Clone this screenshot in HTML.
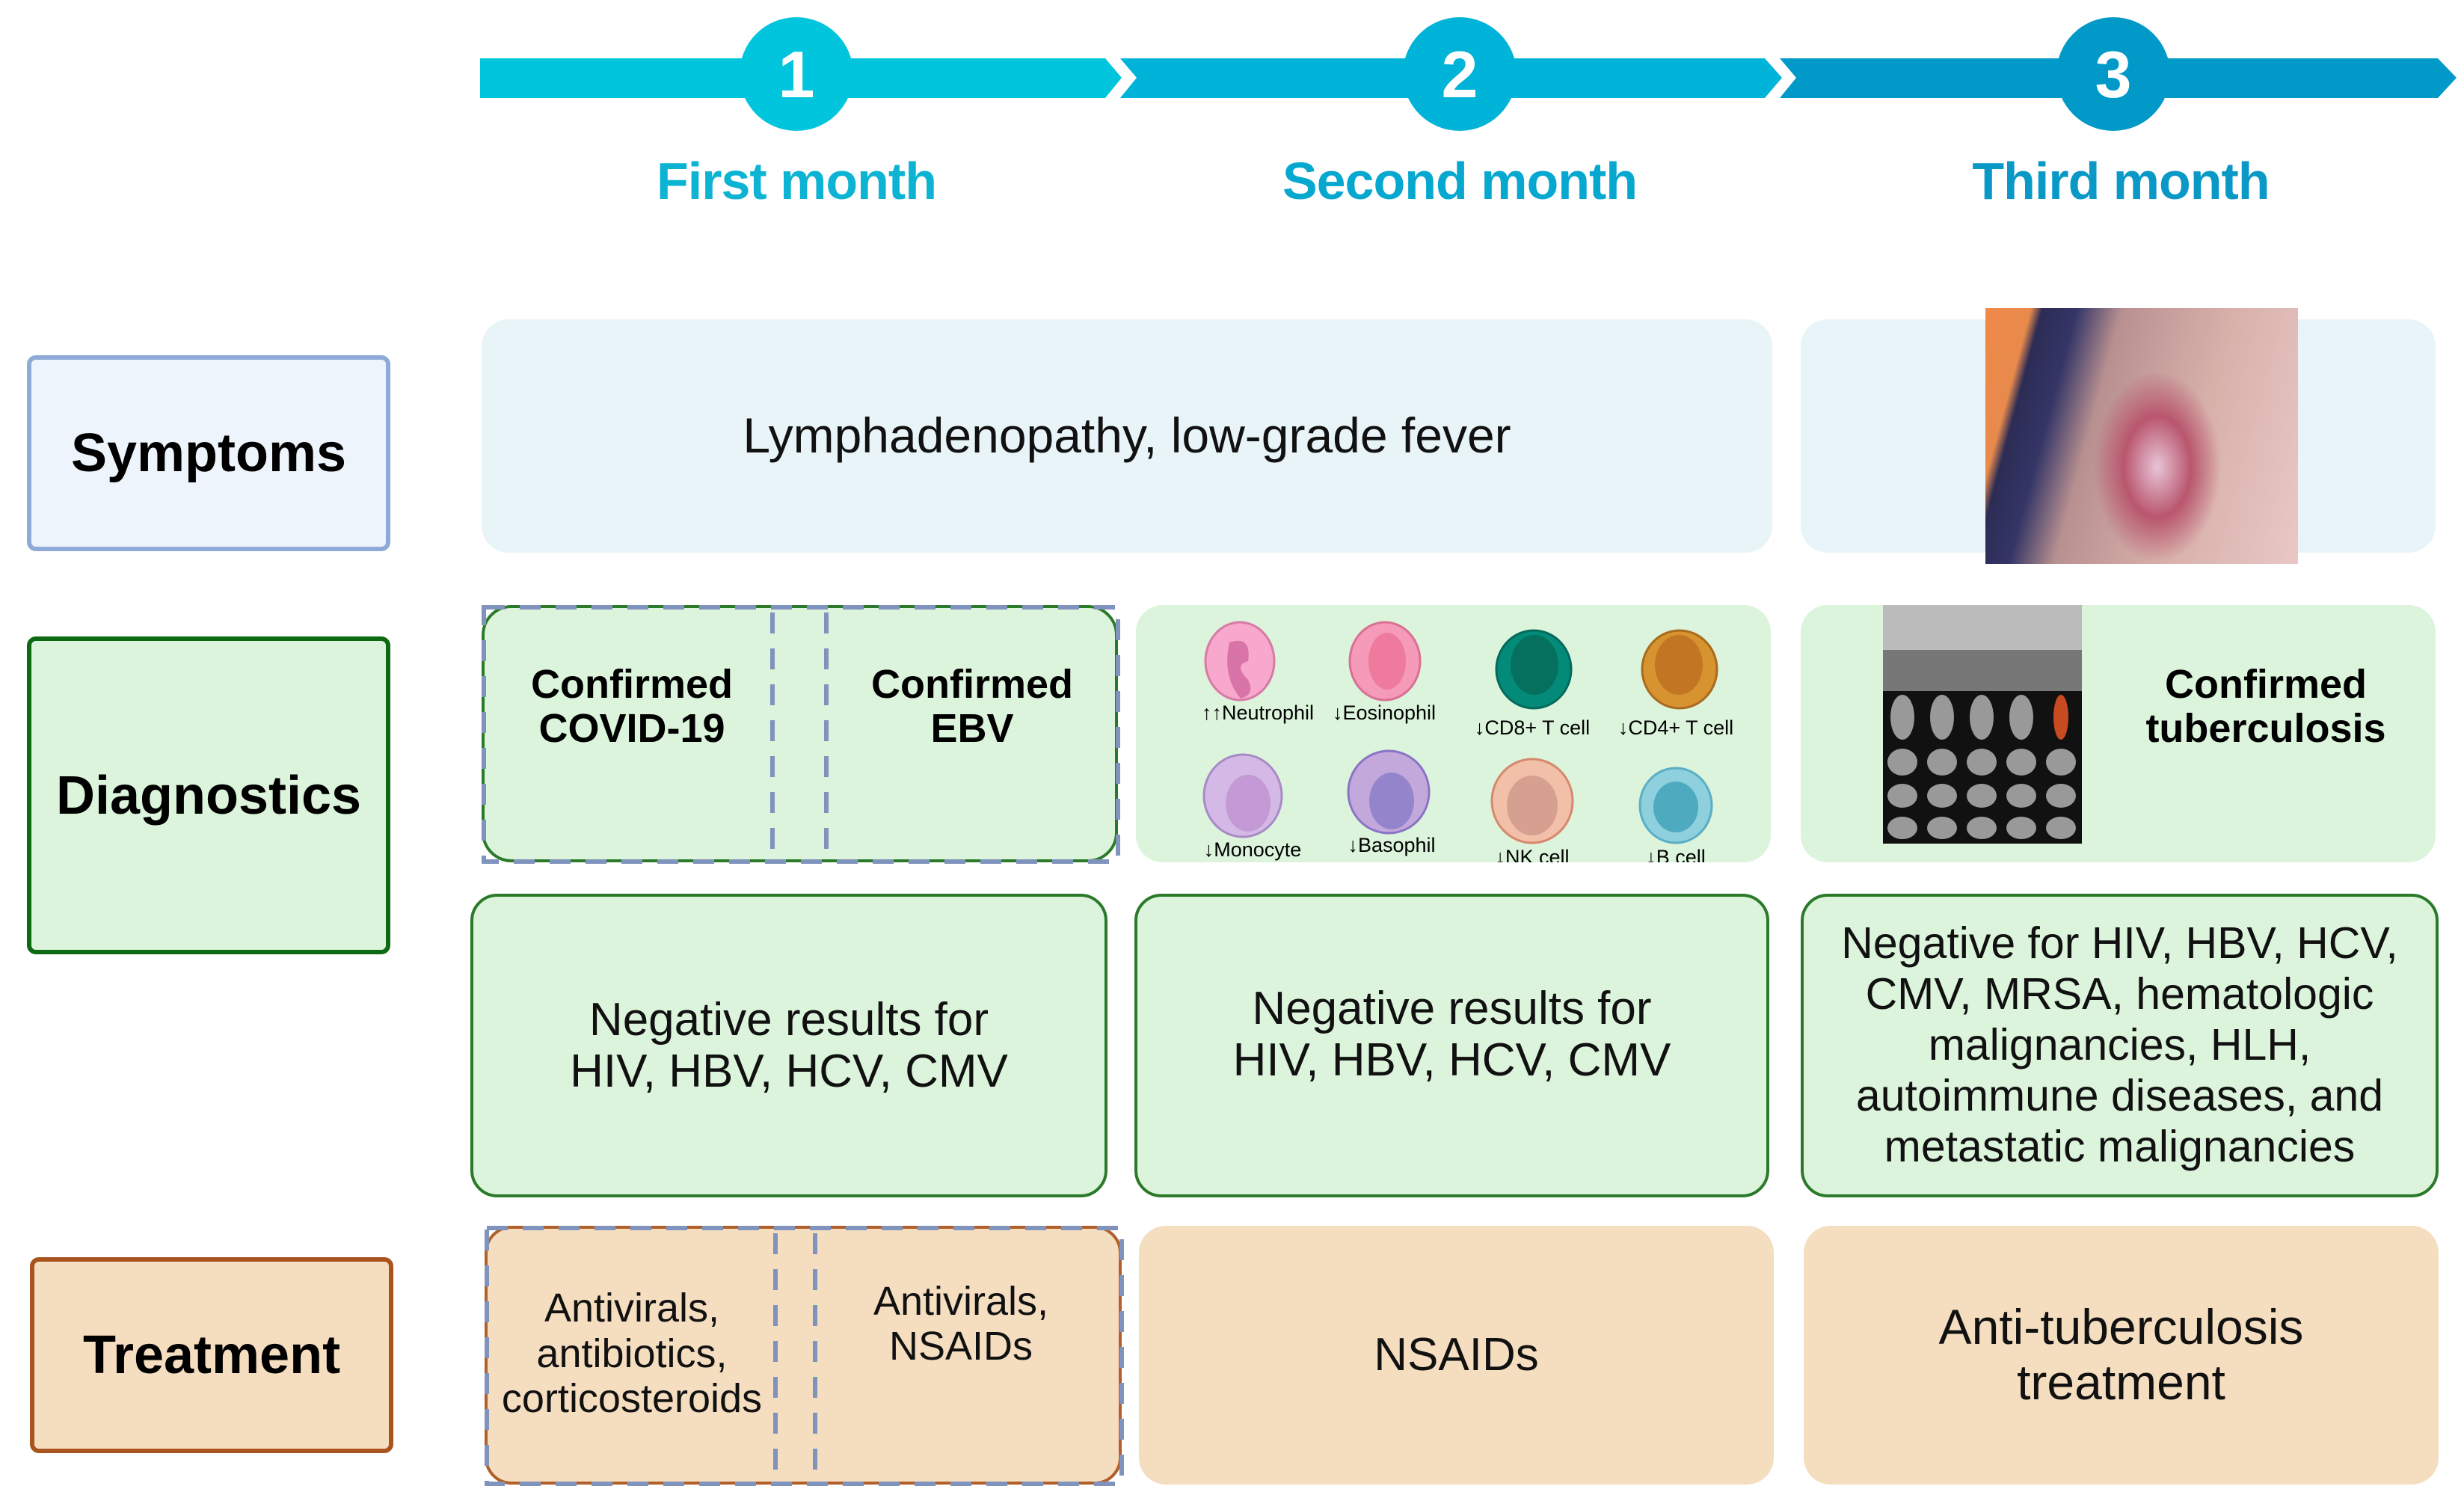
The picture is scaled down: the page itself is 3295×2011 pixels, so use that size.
<!DOCTYPE html>
<html><head><meta charset="utf-8"><style>
body{margin:0;width:3295px;height:2011px;background:#fff;position:relative;overflow:hidden;font-family:"Liberation Sans",sans-serif}
.a{position:absolute;box-sizing:border-box;display:flex;align-items:center;justify-content:center;text-align:center}
.lbl{font-weight:bold;font-size:72px;color:#000;border-radius:12px}
.t{font-size:62px;line-height:1.12;color:#111}
.c{font-weight:bold;font-size:54px;line-height:1.1;color:#000}
.m{font-weight:bold;font-size:70px;position:absolute;text-align:center;width:600px;letter-spacing:-1px}
</style></head><body>
<svg style="position:absolute;left:0;top:0" width="3295" height="300">
<polygon points="642,78 1478,78 1500,104 1478,131 642,131" fill="#00c5dc"/>
<polygon points="1498,78 2360,78 2383,104 2360,131 1498,131 1520,104" fill="#00b3d8"/>
<polygon points="2380,78 3260,78 3285,104 3260,131 2380,131 2402,104" fill="#0099c8"/>
<circle cx="1065" cy="99" r="76" fill="#00c5dc"/>
<circle cx="1952" cy="99" r="76" fill="#00b3d8"/>
<circle cx="2826" cy="99" r="76" fill="#0099c8"/>
<g font-family="Liberation Sans" font-weight="bold" font-size="88" fill="#fff" text-anchor="middle">
<text x="1065" y="130">1</text><text x="1952" y="130">2</text><text x="2826" y="130">3</text></g>
</svg>
<div class="m" style="left:765px;top:202px;color:#0cb3d2">First month</div>
<div class="m" style="left:1652px;top:202px;color:#06a8d0">Second month</div>
<div class="m" style="left:2536px;top:202px;color:#0a98c6">Third month</div>

<div class="a lbl" style="left:36px;top:475px;width:486px;height:262px;background:#edf4fc;border:6px solid #8eaad6">Symptoms</div>
<div class="a lbl" style="left:36px;top:851px;width:486px;height:425px;background:#dcf4dc;border:6px solid #0e6a12">Diagnostics</div>
<div class="a lbl" style="left:40px;top:1681px;width:486px;height:262px;background:#f5ddc0;border:6px solid #a9541e">Treatment</div>

<div class="a t" style="left:644px;top:427px;width:1726px;height:312px;background:#e8f4f8;border-radius:36px;font-size:66px">Lymphadenopathy, low-grade fever</div>
<div class="a" style="left:2408px;top:427px;width:849px;height:312px;background:#e8f4f8;border-radius:36px"></div>
<div style="position:absolute;left:2655px;top:412px;width:418px;height:342px;background:radial-gradient(ellipse 100px 150px at 55% 62%,#e8c4d6 0%,#b9566e 45%,rgba(185,86,110,0) 85%),linear-gradient(105deg,#f0894a 0%,#e88a4c 12%,#2c2c55 15%,#343566 24%,#b89090 36%,#d8b0aa 65%,#e9c8c6 100%)"></div>

<div class="a c" style="left:644px;top:809px;width:851px;height:344px;background:#dcf4dc;border:4px solid #2a7a2a;border-radius:40px"></div>
<svg style="position:absolute;left:644px;top:809px" width="855" height="350"><g stroke="#7f93bd" stroke-width="6" stroke-dasharray="28,20" fill="none">
<rect x="3" y="3" width="848" height="340"/><line x1="389" y1="10" x2="389" y2="344"/><line x1="461" y1="10" x2="461" y2="344"/></g></svg>
<div class="a c" style="left:660px;top:870px;width:370px;height:150px">Confirmed<br>COVID-19</div>
<div class="a c" style="left:1110px;top:870px;width:380px;height:150px">Confirmed<br>EBV</div>

<div class="a" style="left:1519px;top:809px;width:849px;height:344px;background:#dcf4dc;border-radius:36px"></div>
<svg style="position:absolute;left:1519px;top:809px" width="849" height="344" font-family="Liberation Sans" font-size="27" text-anchor="middle">
<ellipse cx="139" cy="75" rx="46" ry="52" fill="#f7a8cc" stroke="#d77aa6" stroke-width="3"/><path d="M125 50 q30 -10 25 25 q-20 5 0 25 q10 20 -10 25 q-25 -30 -15 -75z" fill="#d874a8"/>
<ellipse cx="333" cy="75" rx="47" ry="52" fill="#f59ab8" stroke="#d97093" stroke-width="3"/><ellipse cx="336" cy="75" rx="25" ry="38" fill="#ee7b9e"/>
<ellipse cx="532" cy="86" rx="50" ry="52" fill="#048a78" stroke="#036a5c" stroke-width="3"/><ellipse cx="533" cy="80" rx="32" ry="40" fill="#05705e"/>
<ellipse cx="727" cy="86" rx="50" ry="52" fill="#d69330" stroke="#a86a1e" stroke-width="3"/><ellipse cx="726" cy="80" rx="32" ry="40" fill="#c27522"/>
<text x="163" y="153">↑↑Neutrophil</text><text x="332" y="153">↓Eosinophil</text><text x="530" y="173">↓CD8+ T cell</text><text x="722" y="173">↓CD4+ T cell</text>
<ellipse cx="143" cy="255" rx="52" ry="55" fill="#d4b8e6" stroke="#a88ac6" stroke-width="3"/><ellipse cx="150" cy="265" rx="30" ry="38" fill="#c49ad6"/>
<ellipse cx="338" cy="250" rx="54" ry="55" fill="#c3a8dc" stroke="#8a74c4" stroke-width="3"/><ellipse cx="342" cy="262" rx="30" ry="38" fill="#9484cc"/>
<ellipse cx="530" cy="262" rx="54" ry="56" fill="#f2c0a8" stroke="#d6886e" stroke-width="3"/><ellipse cx="530" cy="268" rx="34" ry="40" fill="#d6a090"/>
<ellipse cx="722" cy="268" rx="48" ry="50" fill="#8ed0de" stroke="#5aaec4" stroke-width="3"/><ellipse cx="722" cy="270" rx="30" ry="34" fill="#4eaabf"/>
<text x="156" y="336">↓Monocyte</text><text x="342" y="330">↓Basophil</text><text x="530" y="346">↓NK cell</text><text x="722" y="346">↓B cell</text>
</svg>

<div class="a" style="left:2408px;top:809px;width:849px;height:344px;background:#dcf4dc;border-radius:36px"></div>
<svg style="position:absolute;left:2518px;top:809px" width="266" height="319"><rect width="266" height="319" fill="#111"/>
<rect x="0" y="0" width="266" height="60" fill="#bbb"/><rect x="0" y="60" width="266" height="55" fill="#777"/>
<g fill="#999"><ellipse cx="26" cy="150" rx="16" ry="30"/><ellipse cx="79" cy="150" rx="16" ry="30"/><ellipse cx="132" cy="150" rx="16" ry="30"/><ellipse cx="185" cy="150" rx="16" ry="30"/>
<ellipse cx="26" cy="210" rx="20" ry="18"/><ellipse cx="79" cy="210" rx="20" ry="18"/><ellipse cx="132" cy="210" rx="20" ry="18"/><ellipse cx="185" cy="210" rx="20" ry="18"/><ellipse cx="238" cy="210" rx="20" ry="18"/>
<ellipse cx="26" cy="255" rx="20" ry="16"/><ellipse cx="79" cy="255" rx="20" ry="16"/><ellipse cx="132" cy="255" rx="20" ry="16"/><ellipse cx="185" cy="255" rx="20" ry="16"/><ellipse cx="238" cy="255" rx="20" ry="16"/>
<ellipse cx="26" cy="298" rx="20" ry="15"/><ellipse cx="79" cy="298" rx="20" ry="15"/><ellipse cx="132" cy="298" rx="20" ry="15"/><ellipse cx="185" cy="298" rx="20" ry="15"/><ellipse cx="238" cy="298" rx="20" ry="15"/></g>
<ellipse cx="238" cy="150" rx="10" ry="30" fill="#c84a20"/></svg>
<div class="a c" style="left:2800px;top:870px;width:460px;height:150px">Confirmed<br>tuberculosis</div>

<div class="a t" style="left:629px;top:1195px;width:852px;height:406px;background:#dcf4dc;border:4px solid #2a7a2a;border-radius:36px">Negative results for<br>HIV, HBV, HCV, CMV</div>
<div class="a t" style="left:1517px;top:1195px;width:849px;height:406px;background:#dcf4dc;border:4px solid #2a7a2a;border-radius:36px;padding-bottom:30px">Negative results for<br>HIV, HBV, HCV, CMV</div>
<div class="a t" style="left:2408px;top:1195px;width:853px;height:406px;background:#dcf4dc;border:4px solid #2a7a2a;border-radius:36px;font-size:59px;line-height:1.15">Negative for HIV, HBV, HCV,<br>CMV, MRSA, hematologic<br>malignancies, HLH,<br>autoimmune diseases, and<br>metastatic malignancies</div>

<div class="a" style="left:648px;top:1639px;width:852px;height:346px;background:#f5ddc0;border:4px solid #b0602a;border-radius:36px"></div>
<svg style="position:absolute;left:648px;top:1639px" width="856" height="350"><g stroke="#7f93bd" stroke-width="6" stroke-dasharray="28,20" fill="none">
<rect x="3" y="3" width="849" height="342"/><line x1="389" y1="10" x2="389" y2="346"/><line x1="442" y1="10" x2="442" y2="346"/></g></svg>
<div class="a t" style="left:650px;top:1680px;width:390px;height:260px;font-size:54px">Antivirals,<br>antibiotics,<br>corticosteroids</div>
<div class="a t" style="left:1095px;top:1690px;width:380px;height:160px;font-size:54px">Antivirals,<br>NSAIDs</div>
<div class="a t" style="left:1523px;top:1639px;width:849px;height:346px;background:#f5ddc0;border-radius:36px">NSAIDs</div>
<div class="a t" style="left:2412px;top:1639px;width:849px;height:346px;background:#f5ddc0;border-radius:36px;font-size:66px">Anti-tuberculosis<br>treatment</div>
</body></html>
